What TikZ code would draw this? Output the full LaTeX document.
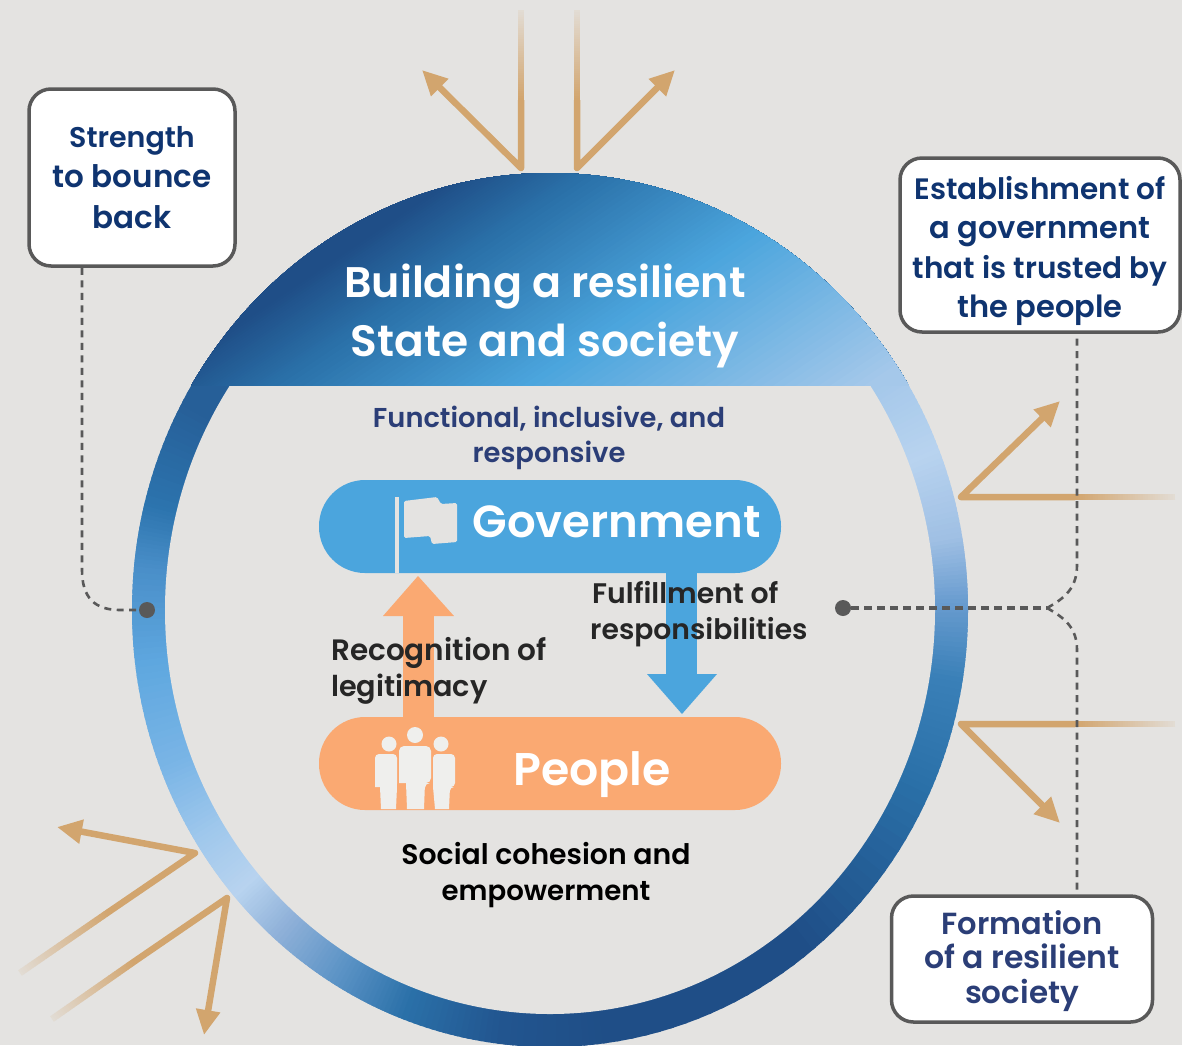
\documentclass[tikz,border=0pt]{standalone}
\usepackage{fontspec}
\setmainfont[BoldFont={Poppins SemiBold}]{Poppins}
\usetikzlibrary{arrows.meta,calc}
\definecolor{bgc}{HTML}{E4E3E1}
\definecolor{tan}{HTML}{D2A56E}
\definecolor{gbl}{HTML}{4BA5DD}
\definecolor{por}{HTML}{FAA972}
\definecolor{dashc}{HTML}{595959}
\definecolor{navy}{HTML}{0F3470}
\definecolor{slate}{HTML}{2B3E77}
\definecolor{iconc}{HTML}{EFEFED}
\definecolor{r1}{HTML}{265F98}\definecolor{r2}{HTML}{2C74AE}\definecolor{r3}{HTML}{4A8FC9}
\definecolor{r4}{HTML}{5EA7DF}\definecolor{r5}{HTML}{7AB5E6}\definecolor{r6}{HTML}{A0C8EC}
\definecolor{r7}{HTML}{B8D3EF}\definecolor{r8}{HTML}{8EB0D8}\definecolor{r9}{HTML}{5A92C5}
\definecolor{r10}{HTML}{2A70A8}\definecolor{r11}{HTML}{22558F}\definecolor{r12}{HTML}{1F4E87}
\definecolor{r13}{HTML}{3A80B8}\definecolor{r14}{HTML}{6A9DD0}\definecolor{r15}{HTML}{A0C0E4}
\definecolor{r16}{HTML}{A5C8EA}
\newcommand{\fs}[2]{\bfseries\fontsize{#1}{#2}\selectfont}
\newcommand{\ls}[2]{{\fontsize{#1}{#1}\selectfont #2}}
\tikzset{
  x=1pt,y=-1pt,
  labelbox/.style={draw=dashc,line width=3.5pt,fill=white,rounded corners=22pt,inner sep=0pt,align=center,text=navy},
  dashline/.style={draw=dashc,line width=2.6pt,dash pattern=on 7pt off 5.5pt},
  dashthick/.style={draw=dashc,line width=3.4pt,dash pattern=on 8pt off 5pt},
  arrowline/.style={draw=tan,line width=6.5pt,line join=round,-{Triangle[length=25pt,width=23pt]}},
  txt/.style={inner sep=0pt,align=center},
}
\newcommand{\fadeseg}[3]{%
  \foreach \i in {0,...,39}{
    \pgfmathsetmacro{\pa}{\i/40}\pgfmathsetmacro{\pb}{(\i+1.15)/40}
    \pgfmathsetmacro{\pc}{#3+(100-#3)*\i/39}
    \draw[draw=tan!\pc!bgc,line width=6.5pt] ($(#1)!\pa!(#2)$) -- ($(#1)!\pb!(#2)$);
  }}
\begin{document}
\begin{tikzpicture}
\useasboundingbox (0,0) rectangle (1182,1045);
\fill[bgc] (0,0) rectangle (1182,1045);

% ring with angular gradient
\begin{scope}
  \clip (550,610) ellipse [x radius=418pt,y radius=437pt];
  \foreach \aa/\bb/\ca/\cb in {130/150/r1/r1,150/165/r1/r2,165/174/r2/r3,174/187/r3/r4,187/202/r4/r5,202/213/r5/r6,213/222/r6/r7,222/230/r7/r8,230/240/r8/r9,240/250/r9/r10,250/263/r10/r11,263/277/r11/r12,277/306/r12/r12,306/334/r12/r10,334/350/r10/r13,350/361/r13/r14,361/370/r14/r15,370/382/r15/r7,382/394/r7/r16,394/420/r16/r16}{
    \foreach \i in {0,...,15}{
      \pgfmathsetmacro{\ta}{\aa+(\bb-\aa)*\i/16}
      \pgfmathsetmacro{\tb}{\aa+(\bb-\aa)*(\i+1)/16+0.5}
      \pgfmathsetmacro{\pp}{100*\i/16}
      \colorlet{segc}{\cb!\pp!\ca}
      \fill[segc] (550,610) -- ({550+700*cos(\ta)},{610-700*sin(\ta)}) -- ({550+700*cos(\tb)},{610-700*sin(\tb)}) -- cycle;
    }
  }
\end{scope}
\fill[bgc] (550,610) ellipse [x radius=385pt,y radius=404pt];

% top cap with diagonal gradient
\begin{scope}
  \clip (0,0) rectangle (1182,385);
  \clip (550,610) ellipse [x radius=418pt,y radius=437pt];
  \foreach \sa/\sb/\ca/\cb in {300/400/r12/r12,400/470/r12/r10,470/611/r10/gbl,611/802/gbl/r16,802/900/r16/r16}{
    \foreach \i in {0,...,29}{
      \pgfmathsetmacro{\tt}{\sa+(\sb-\sa)*\i/30}
      \pgfmathsetmacro{\pp}{100*\i/30}
      \colorlet{segc}{\cb!\pp!\ca}
      \fill[segc] ({\tt*0.56+1500*0.83},{\tt*0.83-1500*0.56}) -- ({\tt*0.56-1500*0.83},{\tt*0.83+1500*0.56}) -- ++(840,1245) -- ++(2490,-1680) -- cycle;
    }
  }
\end{scope}

% tan arrows: free ends
\coordinate (va) at (521,168); \coordinate (fa) at (521,10); \coordinate (ma) at (521,100); \coordinate (ta) at (422,70);
\coordinate (vb) at (577,168); \coordinate (fb) at (577,10); \coordinate (mb) at (577,100); \coordinate (tb) at (675,70);
\coordinate (vc) at (961,497); \coordinate (fc) at (1175,497); \coordinate (mc) at (1075,497); \coordinate (tc) at (1060,401);
\coordinate (vd) at (961,724); \coordinate (fd) at (1175,724); \coordinate (md) at (1075,724); \coordinate (td) at (1060,823);
\coordinate (ve) at (195,853); \coordinate (fe) at (20,973); \coordinate (me) at (110,911); \coordinate (te) at (57,827);
\coordinate (vf) at (227,898); \coordinate (ff) at (52,1019); \coordinate (mf) at (135,961); \coordinate (tf) at (204,1035);
\foreach \v/\f/\m/\t in {va/fa/ma/ta,vb/fb/mb/tb,vc/fc/mc/tc,vd/fd/md/td,ve/fe/me/te,vf/ff/mf/tf}{
  \fadeseg{\f}{\m}{12}
  \draw[arrowline] (\m) -- (\v) -- (\t);
}

% dots and fork
\node[circle,fill=dashc,minimum size=16pt,inner sep=0pt] (dotl) at (147,610) {};
\node[circle,fill=dashc,minimum size=16pt,inner sep=0pt] (dotr) at (843,608) {};
\coordinate (fork) at (1047,608);

% boxes
\node[labelbox,minimum width=206pt,minimum height=177pt,font=\fs{28.5}{40.5}] (box1) at (132,177.5)
  {\ls{28.5}{Strength}\\\ls{31}{to bounce}\\\ls{31}{back}};
\node[labelbox,minimum width=280pt,minimum height=174pt,font=\fs{29}{39.5}] (box2) at (1040,245)
  {\rule{0pt}{35pt}\ls{29.5}{Establishment of}\\\ls{30.5}{a government}\\\ls{29.5}{that is trusted by}\\\ls{30.5}{the people}};
\node[labelbox,minimum width=261pt,minimum height=126pt,text=slate,font=\fs{29}{34.5}] (box3) at (1022,959)
  {\rule{0pt}{28pt}\ls{30.5}{Formation}\\\ls{31.5}{of a resilient}\\\ls{31}{society}};

\draw[dashline] (box1.south west -| 82,0) -- (82,570) .. controls (82,598) and (95,610) .. (120,610) -- (dotl);
\draw[dashthick] (dotr) -- (fork);
\draw[dashline] (fork) .. controls (1065,598) and (1077,588) .. (1077,565) -- (box2.south -| 1077,0);
\draw[dashline] (fork) .. controls (1065,618) and (1077,628) .. (1077,650) -- (box3.north -| 1077,0);

% pills and central arrows
\fill[gbl] (666,560) rectangle (697,676);
\fill[gbl] (647,674) -- (717,674) -- (682,714) -- cycle;
\fill[por] (403,614) rectangle (434,730);
\fill[por] (383,616) -- (454,616) -- (418,576) -- cycle;
\node[fill=gbl,rounded corners=46pt,minimum width=462pt,minimum height=93pt,inner sep=0pt] (gov) at (550,526.5) {};
\node[fill=por,rounded corners=46pt,minimum width=462pt,minimum height=93pt,inner sep=0pt] (peo) at (550,763.5) {};

% flag
\fill[bgc] (395,497) rectangle (399,573);
\fill[bgc,rounded corners=1.5pt] (404,501) -- (437,497) -- (441,504) -- (457,503) -- (457,542) -- (432,544) -- (430,536) -- (404,538) -- cycle;

% people
\fill[iconc] (415,735) circle (8pt) (389,744) circle (7.5pt) (441,744) circle (7.5pt);
\fill[iconc,rounded corners=5pt] (399,783) -- (399,746) -- (431,746) -- (431,783) -- (425,783) [sharp corners] -- (424,809) -- (407,809) -- (406,783) -- cycle;
\fill[iconc,rounded corners=4pt] (375,787) -- (375,754) -- (397,754) -- (397,787) [sharp corners] -- (396,809) -- (381,809) -- (380,787) -- cycle;
\fill[iconc,rounded corners=4pt] (433,787) -- (433,754) -- (455,754) -- (455,787) -- (450,787) [sharp corners] -- (449,809) -- (435,809) -- (433,787) -- cycle;

% texts
\node[txt,text=white,font=\fs{43}{59}] (title) at (545,316) {\ls{42.8}{Building a resilient}\\\ls{43.9}{State and society}};
\node[txt,text=slate,font=\fs{27}{35.5}] (func) at (549,438) {\ls{27.3}{Functional, inclusive, and}\\\ls{27.4}{responsive}};
\node[txt,text=white,anchor=base,font=\fs{45}{50}] (govt) at (616.5,537) {Government};
\node[txt,text=white,anchor=base,font=\fs{45.8}{50}] (peot) at (592,785) {People};
\node[txt,text=black!85,align=left,anchor=west,font=\fs{28}{36}] (ful) at (590,614) {\hspace*{2pt}\ls{28.3}{Fulfillment of}\\\ls{28.2}{responsibilities}};
\node[txt,text=black!85,align=left,anchor=west,font=\fs{29}{35.5}] (rec) at (331,671) {\ls{29.5}{Recognition of}\\\ls{28.7}{legitimacy}};
\node[txt,text=black,font=\fs{28}{36}] (soc) at (546,875) {\ls{28.3}{Social cohesion and}\\\ls{27.6}{empowerment}};
\end{tikzpicture}
\end{document}
